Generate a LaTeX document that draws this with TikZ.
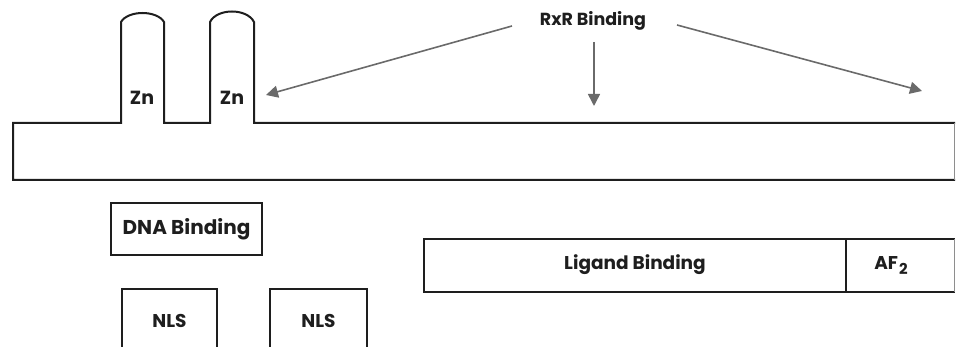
\documentclass[tikz,border=0pt]{standalone}
\usepackage{fontspec}
\setmainfont{Poppins}
\usetikzlibrary{arrows.meta}
\definecolor{ink}{HTML}{1E1E1E}
\definecolor{arrowgray}{HTML}{6A6A6A}
\newcommand{\fs}[1]{\fontsize{#1}{#1}\selectfont}
\begin{document}
\begin{tikzpicture}[x=1pt,y=-1pt,
  outline/.style={draw=ink,line width=2pt},
  lbl/.style={text=ink,font=\bfseries\fs{18.5},inner sep=0pt},
  pointer/.style={draw=arrowgray,line width=1.6pt,-{Triangle[length=12pt,width=12pt]}}]
\useasboundingbox (0,0) rectangle (956,347);
\clip (0,0) rectangle (956,347);
% main bar with zinc fingers
\draw[outline,line join=miter]
  (955,123) -- (254,123) -- (254,22) .. controls (247,8) and (217,8) .. (210,22)
  -- (210,123) -- (164,123) -- (164,22) .. controls (157,10) and (128,10) .. (121,22)
  -- (121,123) -- (13,123) -- (13,180) -- (955,180);
\draw[draw=ink!50,line width=1pt] (954,123) -- (954,180);
\node[lbl,font=\bfseries\fs{19}] (zn1) at (142,98) {Zn};
\node[lbl,font=\bfseries\fs{19}] (zn2) at (232,98) {Zn};
% RxR binding
\node[lbl,font=\bfseries\fs{17.5}] (rxr) at (593,21) {RxR Binding};
\coordinate (lstart) at (512,26);
\coordinate (mstart) at (594,42);
\coordinate (rstart) at (677,25);
\coordinate (ltip) at (266,95);
\coordinate (mtip) at (594,106);
\coordinate (rtip) at (922,91);
\draw[pointer] (lstart) -- (ltip);
\draw[pointer] (mstart) -- (mtip);
\draw[pointer] (rstart) -- (rtip);
% DNA binding
\draw[outline] (111,203) rectangle (262,255);
\node[lbl,font=\bfseries\fs{20}] (dna) at (186.5,229) {DNA Binding};
% NLS boxes (cut at bottom)
\draw[outline] (122,360) -- (122,289) -- (217,289) -- (217,360);
\node[lbl] (nls1) at (169.5,321) {NLS};
\draw[outline] (270,360) -- (270,289) -- (367,289) -- (367,360);
\node[lbl] (nls2) at (318.5,321) {NLS};
% Ligand binding / AF2
\draw[outline] (955,239) -- (424,239) -- (424,292) -- (955,292);
\draw[outline] (846,239) -- (846,292);
\draw[draw=ink!50,line width=1pt] (954,239) -- (954,292);
\node[lbl] (lig) at (635,265) {Ligand Binding};
\node[lbl] (af) at (891,266) {AF\kern1pt\raisebox{-5pt}{\fs{15}2}};
\end{tikzpicture}
\end{document}
